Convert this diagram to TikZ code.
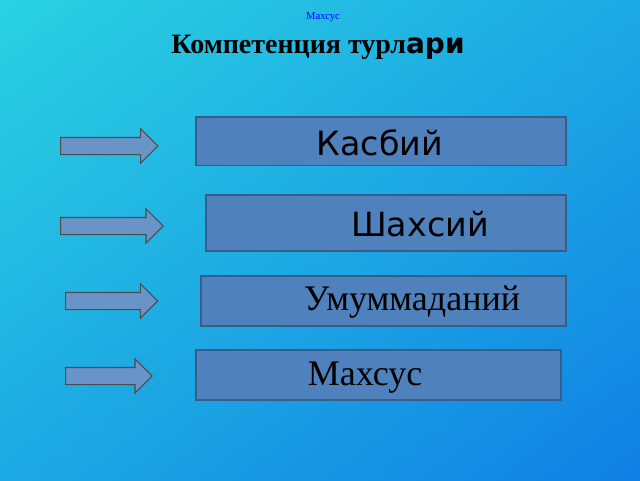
\documentclass[tikz,border=0pt]{standalone}
\usepackage{fontspec}
\setmainfont{Liberation Serif}
\setsansfont{DejaVu Sans}
\usetikzlibrary{shapes.arrows,shadings}
\definecolor{boxfill}{HTML}{4F81BD}
\definecolor{boxline}{HTML}{385D8A}
\definecolor{bgtop}{HTML}{2AD2E2}
\definecolor{bgbot}{HTML}{1080E4}
\tikzset{
  kbox/.style={draw=boxline, line width=1.2pt, fill=boxfill, anchor=north west},
  karrow/.style={single arrow, draw=black!70, fill=boxfill!85!white, line width=0.8pt,
    minimum height=#1, single arrow head extend=6.5pt, text height=0pt, text depth=0pt,
    inner xsep=0pt, inner ysep=6pt, single arrow tip angle=90, anchor=west},
}
\begin{document}
\begin{tikzpicture}[x=0.75pt,y=-0.75pt]
\useasboundingbox (0,0) rectangle (640,480);
\shade[upper left=bgtop, lower right=bgbot, upper right=bgtop!50!bgbot, lower left=bgtop!50!bgbot] (0,0) rectangle (640,480);

\node[text=blue, font=\fontsize{8}{9}\selectfont] (sub) at (323,17) {Махсус};
\node[font=\bfseries\fontsize{21}{24}\selectfont] (title) at (318,47) {Компетенция турл{\sffamily ари}};

\node[kbox, minimum width=277.5pt, minimum height=36.5pt] (b1) at (195,116) {};
\node[kbox, minimum width=270pt, minimum height=42pt] (b2) at (205,194) {};
\node[kbox, minimum width=273.75pt, minimum height=37.5pt] (b3) at (200,275) {};
\node[kbox, minimum width=273.75pt, minimum height=37.5pt] (b4) at (195,349) {};

\node[font=\sffamily\fontsize{25}{28}\selectfont] (t1) at (380,143) {Касбий};
\node[font=\sffamily\fontsize{25}{28}\selectfont] (t2) at (420,224) {Шахсий};
\node[font=\fontsize{27}{30}\selectfont] (t3) at (412,302) {Умуммаданий};
\node[font=\fontsize{27}{30}\selectfont] (t4) at (365,378) {Махсус};

\node[karrow=73pt] (a1) at (60,146) {};
\node[karrow=77pt] (a2) at (60,226) {};
\node[karrow=69pt] (a3) at (65,301) {};
\node[karrow=65pt] (a4) at (65,376) {};
\end{tikzpicture}
\end{document}
